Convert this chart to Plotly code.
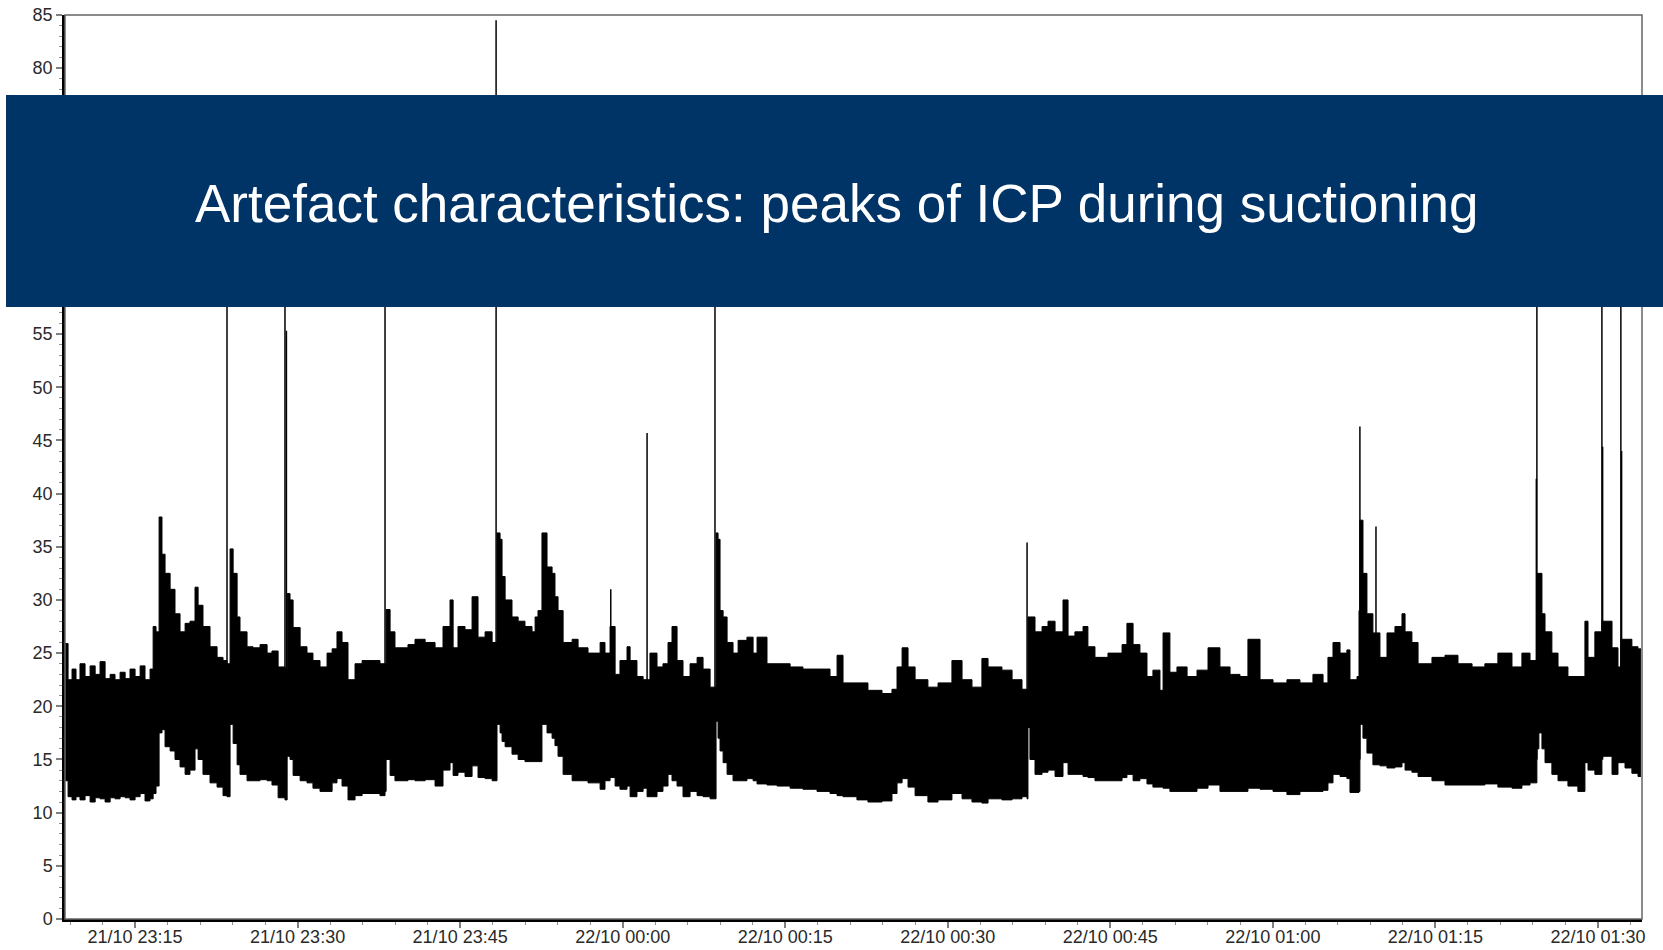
import plotly.graph_objects as go

# ---- data (ICP, mmHg) ----
times = ["23:08:32","23:08:49","23:09:11","23:09:33","23:09:55","23:10:23","23:10:51","23:11:19","23:11:46","23:12:14",
"23:12:42","23:13:09","23:13:37","23:14:05","23:14:32","23:15:00","23:15:28","23:15:55","23:16:23","23:16:40",
"23:16:56","23:17:13","23:17:29","23:17:46","23:18:14","23:18:41","23:19:09","23:19:37","23:20:04","23:20:32",
"23:20:49","23:21:16","23:21:55","23:22:34","23:23:07","23:23:29","23:23:46","23:24:03","23:24:25","23:24:41",
"23:25:20","23:25:53","23:26:32","23:27:11","23:27:38","23:28:12","23:28:50","23:29:02","23:29:18","23:29:35",
"23:30:14","23:30:52","23:31:25","23:32:04","23:32:43","23:33:11","23:33:38","23:34:06","23:34:39","23:35:18",
"23:35:57","23:36:52","23:37:36","23:38:04","23:38:10","23:38:32","23:38:59","23:39:38","23:40:11","23:40:50",
"23:41:46","23:42:41","23:43:25","23:44:04","23:44:21","23:44:48","23:45:27","23:46:06","23:46:39","23:47:18",
"23:47:57","23:48:19","23:48:24","23:48:41","23:48:52","23:49:09","23:49:47","23:50:21","23:50:59","23:51:38",
"23:51:55","23:52:11","23:52:33","23:53:01","23:53:29","23:53:45","23:54:02","23:54:30","23:55:20","23:55:53",
"23:56:48","23:57:55","23:58:22","23:58:50","23:59:18","23:59:45","00:00:24","00:00:41","00:01:19","00:01:53",
"00:02:15","00:02:31","00:03:10","00:03:43","00:04:11","00:04:33","00:05:01","00:05:34","00:06:13","00:06:52",
"00:07:25","00:08:04","00:08:31","00:08:37","00:08:48","00:08:59","00:09:16","00:09:38","00:10:11","00:10:39",
"00:11:28","00:12:02","00:12:24","00:13:19","00:14:15","00:15:27","00:16:38","00:17:56","00:19:08","00:19:47",
"00:20:20","00:21:37","00:22:38","00:23:56","00:24:51","00:25:19","00:25:47","00:26:20","00:26:59","00:28:10",
"00:29:06","00:30:23","00:31:19","00:32:14","00:33:09","00:33:43","00:35:00","00:35:56","00:36:51","00:37:19",
"00:37:24","00:37:35","00:38:03","00:38:42","00:39:15","00:39:54","00:40:38","00:41:06","00:41:44","00:42:29",
"00:42:56","00:43:35","00:44:47","00:46:05","00:46:32","00:47:06","00:47:44","00:48:23","00:48:56","00:49:35",
"00:49:52","00:50:30","00:51:09","00:52:05","00:53:00","00:54:01","00:55:07","00:56:03","00:56:58","00:57:42",
"00:58:49","01:00:01","01:01:18","01:02:30","01:03:42","01:04:38","01:05:05","01:05:33","01:06:12","01:06:50",
"01:07:07","01:07:46","01:07:57","01:08:02","01:08:13","01:08:19","01:08:41","01:09:14","01:09:53","01:10:32",
"01:11:16","01:11:55","01:12:12","01:12:50","01:13:24","01:14:41","01:15:53","01:17:05","01:18:23","01:19:34",
"01:20:46","01:22:04","01:22:59","01:23:44","01:24:22","01:24:33","01:24:50","01:25:07","01:25:45","01:26:19",
"01:27:14","01:28:09","01:28:48","01:29:05","01:29:43","01:30:22","01:30:39","01:31:18","01:31:51","01:32:07",
"01:32:30","01:33:08","01:33:42","01:33:58"]

icp_upper = [25.9,22.5,23.5,22.5,24.0,22.8,23.8,23.0,24.2,22.6,
23.0,22.5,23.2,22.6,23.5,22.8,23.8,22.5,23.5,27.5,
27.0,37.8,34.3,32.5,31.0,28.7,27.0,27.8,28.0,31.2,
29.5,27.5,25.6,24.6,24.3,24.0,34.8,32.5,28.4,27.0,
25.6,25.5,25.8,25.0,25.2,23.7,23.5,30.6,30.0,27.4,
25.6,25.0,24.3,23.7,25.0,25.4,27.0,26.0,22.5,24.0,
24.3,24.3,24.0,24.0,29.1,27.0,25.5,25.5,25.8,26.3,
26.0,25.5,27.5,30.0,25.5,27.5,27.2,30.3,26.5,27.0,
26.0,26.0,36.3,35.7,32.2,30.0,28.4,28.0,27.5,27.0,
28.4,29.0,36.3,33.1,32.5,30.3,29.0,26.0,26.3,25.5,
25.0,26.0,25.0,27.5,23.0,24.3,25.6,24.3,22.8,22.5,
22.5,25.0,23.7,24.0,26.0,27.5,24.3,22.8,24.0,24.6,
23.5,21.8,21.8,36.3,35.7,29.0,28.4,26.0,25.0,26.2,
26.5,25.0,26.5,24.0,24.0,23.7,23.5,23.5,22.8,24.8,
22.2,22.2,21.5,21.2,21.6,23.7,25.5,23.7,22.5,21.8,
22.2,24.3,22.5,21.8,24.5,23.7,23.4,22.5,21.6,21.6,
28.4,28.4,27.0,27.5,28.0,27.0,30.0,26.6,27.0,27.5,
25.6,24.6,25.0,25.8,27.8,25.8,25.0,22.8,23.4,21.5,
26.9,23.2,23.7,22.8,23.4,25.5,23.7,23.0,22.8,26.3,
22.5,22.2,22.5,22.2,23.0,22.2,24.6,26.0,25.0,25.3,
22.5,22.8,29.0,37.5,37.5,32.5,28.7,26.9,24.6,26.9,
27.5,28.7,27.0,26.0,24.0,24.6,24.8,24.0,23.7,24.0,
25.0,23.7,25.0,24.3,32.5,32.5,28.7,27.0,25.0,23.7,
22.8,22.8,28.0,24.6,27.0,28.0,28.0,25.5,23.7,26.3,
26.3,25.6,25.4,25.4]

icp_lower = [13.0,11.5,11.2,11.5,11.2,11.6,11.0,11.4,11.3,11.0,
11.4,11.3,11.5,11.4,11.2,11.5,11.8,11.1,11.3,11.8,
12.5,17.5,17.8,16.2,15.8,15.0,14.3,13.6,14.0,16.0,
15.0,13.6,12.8,12.4,11.6,11.5,18.3,16.5,14.5,13.6,
13.0,13.0,13.1,13.0,12.6,11.4,11.2,15.3,15.0,13.5,
13.0,12.8,12.3,12.0,12.0,12.8,13.2,12.5,11.2,11.6,
11.8,11.8,11.6,12.0,15.0,13.5,13.0,13.0,13.1,13.0,
13.1,12.5,14.0,14.7,13.5,13.8,13.4,14.4,13.3,13.2,
13.0,13.0,18.3,17.5,16.7,16.2,15.5,15.0,14.8,14.8,
14.8,14.8,18.3,17.5,17.0,16.3,15.3,13.6,13.0,13.0,
12.8,12.2,13.0,13.3,12.5,12.2,12.5,11.5,12.0,12.3,
11.5,11.5,12.0,12.5,13.6,13.0,12.5,11.5,12.0,11.6,
11.5,11.3,11.3,18.6,17.0,15.8,14.7,13.6,13.0,13.0,
13.2,13.0,12.7,12.6,12.5,12.3,12.2,12.0,11.8,11.6,
11.5,11.2,11.0,11.1,11.8,12.8,13.2,12.4,11.6,11.0,
11.2,11.8,11.3,11.0,10.9,11.3,11.2,11.3,11.5,11.3,
18.0,15.0,13.6,13.8,14.0,13.4,14.7,13.6,13.6,13.4,
13.3,13.0,13.0,13.3,13.6,13.0,13.2,12.7,12.4,12.4,
12.3,12.0,12.0,12.0,12.3,12.6,12.0,12.0,12.0,12.3,
12.2,12.0,11.7,12.0,12.0,12.1,12.8,13.6,13.4,13.2,
11.9,11.9,12.0,18.3,18.3,17.0,15.6,14.5,14.4,14.2,
14.3,14.7,14.0,13.8,13.4,13.0,12.6,12.6,12.6,12.7,
12.4,12.3,12.6,12.8,16.0,17.5,16.0,14.7,13.6,13.0,
12.5,12.0,14.7,14.0,13.6,15.3,15.3,13.6,14.7,14.7,
14.2,13.7,13.4,13.4]

# narrow artefact peaks (suctioning)
spike_times = ["23:23:29","23:28:50","23:28:58","23:38:04","23:48:19","23:58:54","00:02:15","00:08:31",
               "00:37:19","01:08:02","01:09:31","01:24:19","01:24:22","01:30:22","01:30:26","01:32:07","01:32:11"]
spike_peaks = [68, 72, 55.3, 70, 84.5, 31, 45.7, 74, 35.4, 46.3, 36.9, 41.4, 69, 66, 44.4, 73, 44]

title_text = "Artefact characteristics: peaks of ICP during suctioning"

def stamp(t):
    day = "2010-10-21" if int(t[:2]) >= 12 else "2010-10-22"
    return day + " " + t

x_env = [stamp(t) for t in times]
sx, sy = [], []
for t, p in zip(spike_times, spike_peaks):
    sx += [stamp(t), stamp(t), None]
    sy += [15, p, None]

fig = go.Figure()
fig.add_trace(go.Scatter(x=x_env, y=icp_lower, mode="lines", line=dict(width=1, color="black", shape="hv"),
                         showlegend=False, hoverinfo="skip"))
fig.add_trace(go.Scatter(x=x_env, y=icp_upper, mode="lines", line=dict(width=1, color="black", shape="hv"),
                         fill="tonexty", fillcolor="black", showlegend=False, hoverinfo="skip"))
fig.add_trace(go.Scatter(x=sx, y=sy, mode="lines", line=dict(width=1.5, color="black"),
                         showlegend=False, hoverinfo="skip"))

tickfont = dict(family="Liberation Sans, Arial, sans-serif", size=18, color="#2a2a2a")

fig.update_layout(
    width=1663, height=950,
    margin=dict(l=65, r=21, t=15, b=31, autoexpand=False),
    paper_bgcolor="white", plot_bgcolor="white",
    xaxis=dict(
        type="date", automargin=False,
        range=[stamp("23:08:32"), stamp("01:34:04")],
        tick0=stamp("23:15:00"), dtick=15 * 60 * 1000,
        tickformat="%d/%m %H:%M",
        showgrid=False, zeroline=False,
        showline=True, linecolor="black", linewidth=2.5,
        ticks="outside", ticklen=6, tickwidth=1.5, tickcolor="#808080",
        ticklabelstandoff=-6,
        minor=dict(tick0=stamp("23:15:00"), dtick=3 * 60 * 1000, ticks="outside", ticklen=3,
                   tickwidth=1, tickcolor="#909090", showgrid=False),
        tickfont=tickfont,
    ),
    yaxis=dict(
        range=[0, 85], dtick=5, tick0=0, automargin=False,
        showgrid=False, zeroline=False,
        showline=True, linecolor="black", linewidth=2.5,
        ticks="outside", ticklen=6, tickwidth=1.5, tickcolor="#808080",
        minor=dict(dtick=1, ticks="outside", ticklen=3, tickwidth=1, tickcolor="#909090", showgrid=False),
        tickfont=tickfont,
    ),
    shapes=[
        dict(type="rect", xref="paper", yref="paper", x0=0, x1=1, y0=0, y1=1,
             line=dict(color="#666666", width=1.5), fillcolor="rgba(0,0,0,0)", layer="above"),
        dict(type="rect", xref="paper", yref="paper", x0=-0.0374, x1=1.02, y0=0.677, y1=0.9115,
             line=dict(width=0), fillcolor="#003366", layer="above"),
    ],
    annotations=[
        dict(text=title_text, xref="paper", yref="paper", x=0.489, y=0.792,
             xanchor="center", yanchor="middle", showarrow=False,
             font=dict(family="Liberation Sans, Arial, sans-serif", size=53, color="white")),
    ],
)

fig.write_html("out.html")
